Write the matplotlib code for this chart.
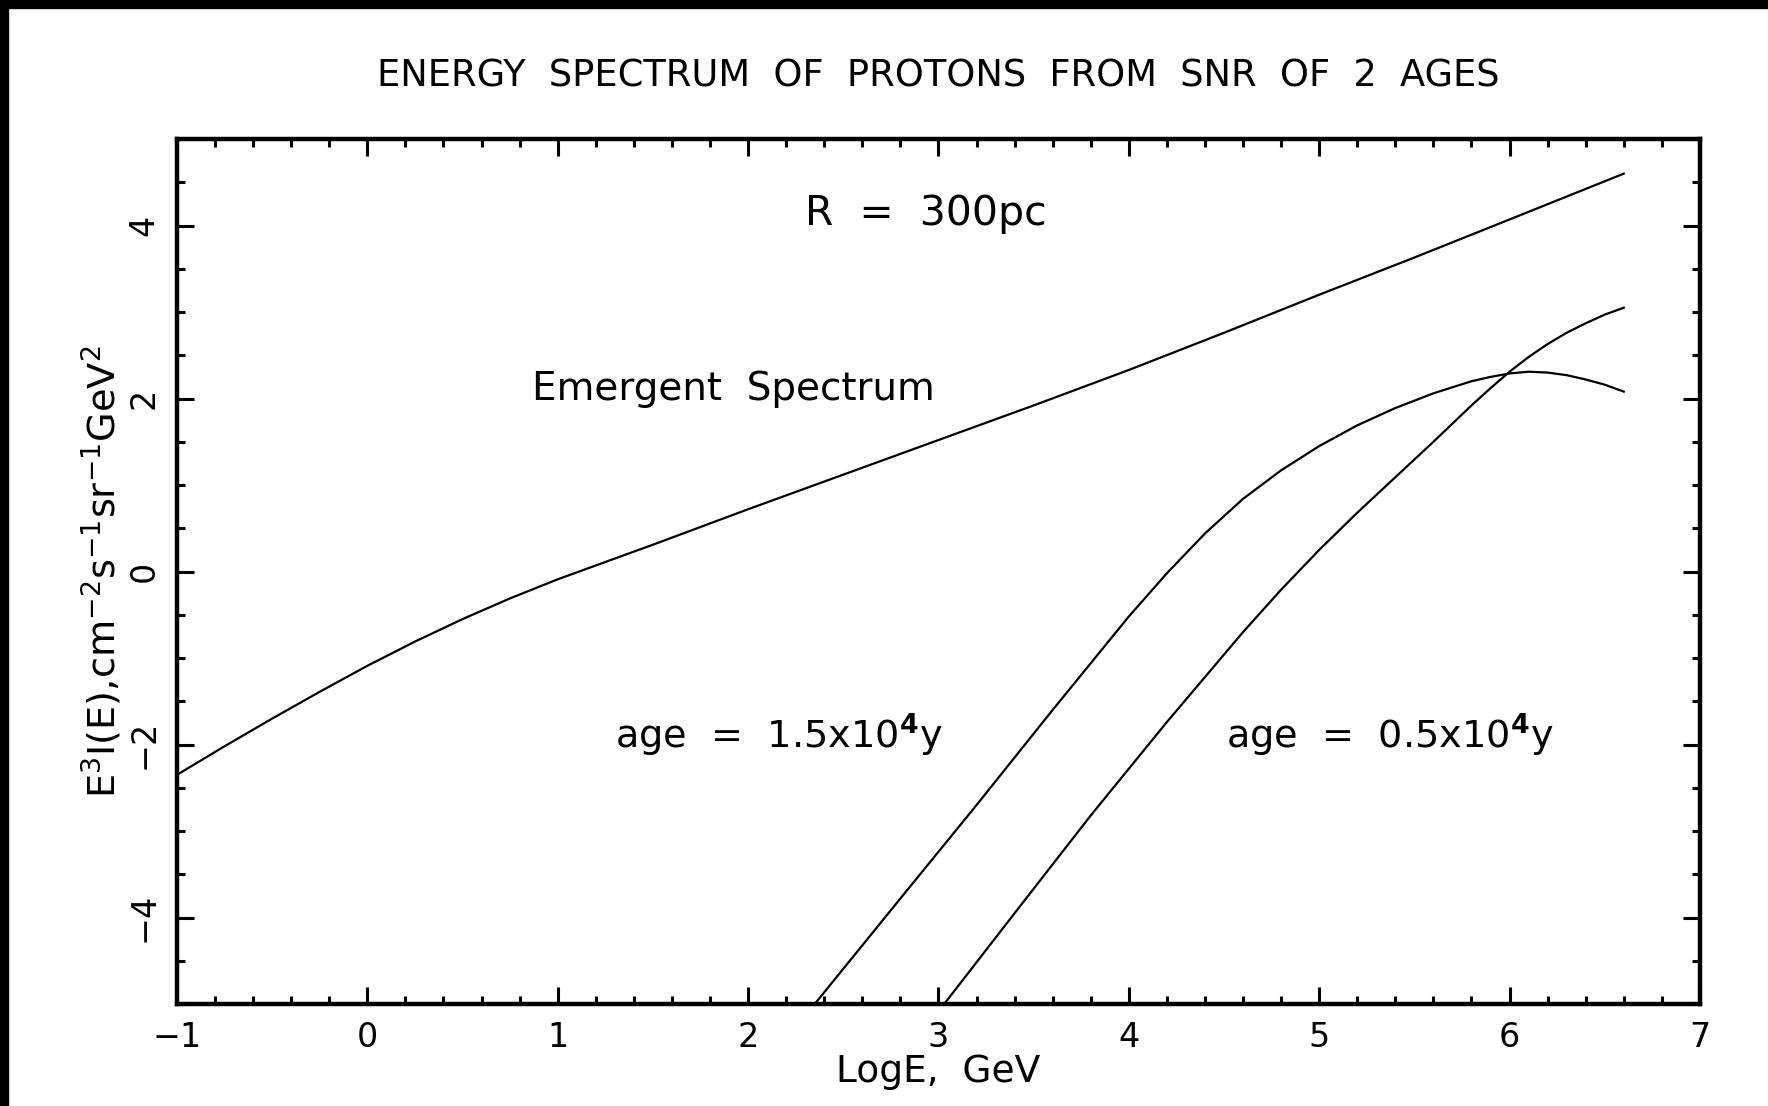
import matplotlib
matplotlib.use("Agg")
import matplotlib.pyplot as plt
from matplotlib.patches import Rectangle
from matplotlib.ticker import MultipleLocator

plt.rcParams['font.family'] = ['DejaVu Sans']
plt.rcParams['mathtext.fontset'] = 'dejavusans'

# values (LogE in GeV, log10 of E^3 I(E))
emergent_x = [-1.0, -0.75, -0.5, -0.25, 0.0, 0.25, 0.5, 0.75, 1.0, 1.5, 2.0, 2.5, 3.0, 3.5, 4.0, 4.5, 5.0, 5.5, 6.0, 6.6]
emergent_y = [-2.35, -2.02, -1.70, -1.39, -1.09, -0.81, -0.55, -0.31, -0.09, 0.31, 0.72, 1.12, 1.52, 1.92, 2.33, 2.76, 3.20, 3.63, 4.07, 4.60]

old_x = [2.35, 2.8, 3.2, 3.6, 4.0, 4.2, 4.4, 4.6, 4.8, 5.0, 5.2, 5.4, 5.6, 5.8, 5.9, 6.0, 6.1, 6.2, 6.3, 6.4, 6.5, 6.6]
old_y = [-5.0, -3.78, -2.70, -1.60, -0.52, -0.02, 0.44, 0.84, 1.17, 1.45, 1.69, 1.89, 2.06, 2.20, 2.25, 2.29, 2.31, 2.30, 2.27, 2.22, 2.16, 2.08]

young_x = [3.03, 3.4, 3.8, 4.2, 4.6, 4.8, 5.0, 5.2, 5.4, 5.6, 5.8, 5.9, 6.0, 6.1, 6.2, 6.3, 6.4, 6.5, 6.6]
young_y = [-5.0, -3.95, -2.82, -1.74, -0.70, -0.21, 0.25, 0.68, 1.09, 1.50, 1.92, 2.12, 2.31, 2.48, 2.63, 2.76, 2.87, 2.97, 3.05]

fig = plt.figure(figsize=(17.68, 11.06), dpi=100)
ax = fig.add_axes([0.1001, 0.0922, 0.8614, 0.7821])

ax.plot(emergent_x, emergent_y, color='black', lw=1.6)
ax.plot(old_x, old_y, color='black', lw=1.6)
ax.plot(young_x, young_y, color='black', lw=1.6)

ax.set_xlim(-1, 7)
ax.set_ylim(-5, 5)
ax.xaxis.set_major_locator(MultipleLocator(1))
ax.xaxis.set_minor_locator(MultipleLocator(0.2))
ax.yaxis.set_major_locator(MultipleLocator(2))
ax.yaxis.set_minor_locator(MultipleLocator(0.5))
ax.tick_params(which='both', direction='in', top=True, right=True, width=2.2, colors='black')
ax.tick_params(which='major', length=12, labelsize=24, pad=12)
ax.tick_params(which='minor', length=6)
for lab in ax.get_yticklabels():
    lab.set_rotation(90)
    lab.set_va('center')
for s in ax.spines.values():
    s.set_linewidth(3.2)

ax.set_xlabel('LogE,  GeV', fontsize=27, labelpad=0)
ax.set_ylabel('E$^3$I(E),cm$^{-2}$s$^{-1}$sr$^{-1}$GeV$^2$', fontsize=27.5, labelpad=2)

ax.set_title('ENERGY  SPECTRUM  OF  PROTONS  FROM  SNR  OF  2  AGES', fontsize=26.5, pad=38)

ax.text(2.30, 4.13, 'R  =  300pc', fontsize=29.5, va='center', ha='left')
ax.text(0.865, 2.11, 'Emergent  Spectrum', fontsize=28, va='center', ha='left')
ax.text(1.30, -1.89, 'age  =  1.5x10$^{\\mathbf{4}}$y', fontsize=27.5, va='center', ha='left')
ax.text(4.51, -1.89, 'age  =  0.5x10$^{\\mathbf{4}}$y', fontsize=27.5, va='center', ha='left')

# black strips along the top and left edge of the scan
fig.patches.append(Rectangle((0, 1 - 8 / 1106), 1, 8 / 1106, transform=fig.transFigure, color='black', zorder=10))
fig.patches.append(Rectangle((0, 0), 8 / 1768, 1, transform=fig.transFigure, color='black', zorder=10))

fig.savefig('out.png', dpi=100)
